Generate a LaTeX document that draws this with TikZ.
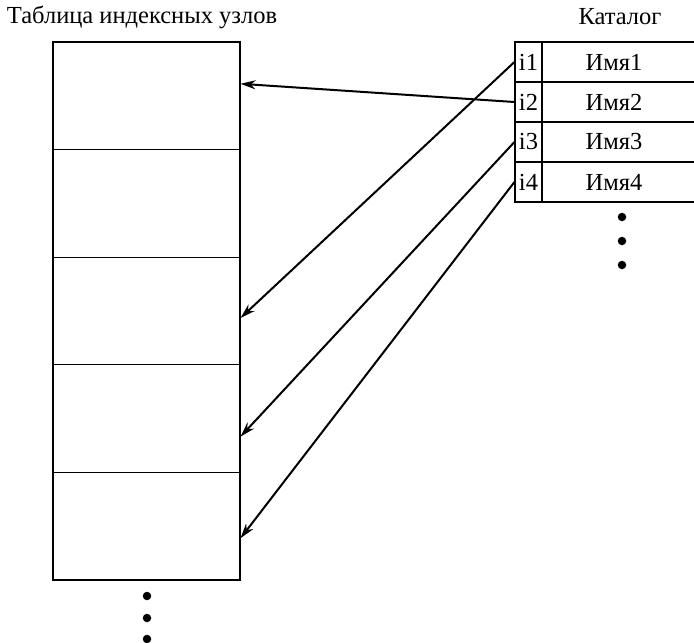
\documentclass[tikz,border=0pt]{standalone}
\usepackage{fontspec}
\setmainfont{Liberation Serif}
\usetikzlibrary{arrows.meta}

\begin{document}
\begin{tikzpicture}[x=1pt, y=-1pt, font=\fontsize{24.5}{28}\selectfont,
  inode/.style={draw, line width=1.1pt, minimum width=187pt, minimum height=107.6pt, inner sep=0pt},
  icell/.style={draw, line width=1.1pt, minimum width=27pt, minimum height=40pt, inner sep=0pt},
  ncell/.style={draw, line width=1.1pt, minimum width=158pt, minimum height=40pt, inner sep=0pt},
  dot/.style={circle, fill=black, inner sep=0pt, minimum size=8.5pt},
  link/.style={-{Stealth[length=15pt, width=9pt]}, line width=2pt}]
  \useasboundingbox (0,0) rectangle (694,643);
  \clip (0,0) rectangle (694,643);
  % titles
  \node (ttab) at (142,17) {Таблица индексных узлов};
  \node (tcat) at (620,17) {Каталог};
  % index node table
  \node[inode] (n1) at (146.5,95.8) {};
  \node[inode] (n2) at (146.5,203.4) {};
  \node[inode] (n3) at (146.5,311) {};
  \node[inode] (n4) at (146.5,418.6) {};
  \node[inode] (n5) at (146.5,526.2) {};
  \node[dot] (d1) at (147,596) {};
  \node[dot] (d2) at (147,618) {};
  \node[dot] (d3) at (147,639) {};
  % catalog
  \node[icell] (i1) at (528.5,62) {i1};
  \node[icell] (i2) at (528.5,102) {i2};
  \node[icell] (i3) at (528.5,142) {i3};
  \node[icell] (i4) at (528.5,182) {i4};
  \node[ncell] (m1) at (621,62) {\hspace*{-14pt}Имя1};
  \node[ncell] (m2) at (621,102) {\hspace*{-14pt}Имя2};
  \node[ncell] (m3) at (621,142) {\hspace*{-14pt}Имя3};
  \node[ncell] (m4) at (621,182) {\hspace*{-14pt}Имя4};
  \node[dot] (e1) at (622,217) {};
  \node[dot] (e2) at (622,241) {};
  \node[dot] (e3) at (622,265) {};
  % links
  \draw[link] (i2.west) -- ([yshift=12pt]n1.east);
  \draw[link] (i1.west) -- ([yshift=-7pt]n3.east);
  \draw[link] (i3.west) -- ([yshift=-18pt]n4.east);
  \draw[link] (i4.west) -- ([yshift=-12pt]n5.east);
\end{tikzpicture}
\end{document}
